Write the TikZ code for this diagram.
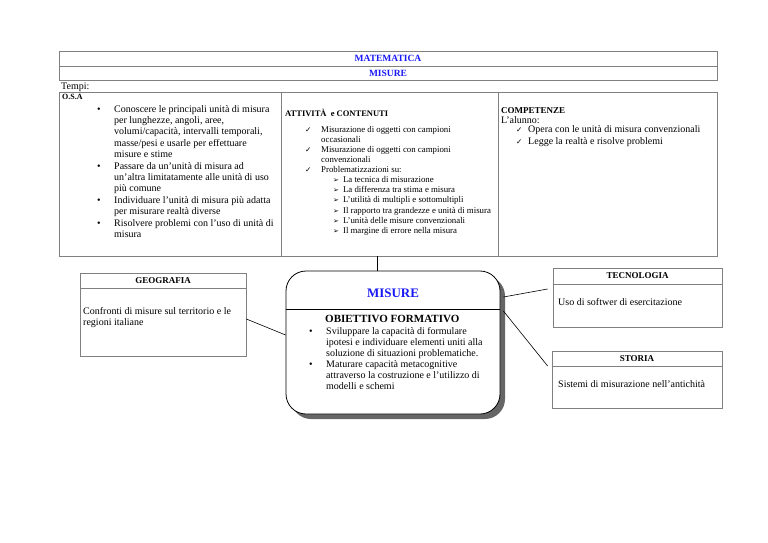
\documentclass[tikz,border=0pt]{standalone}
\usepackage{fontspec}
\setmainfont{Liberation Serif}
\newfontfamily\symfont{DejaVu Sans}
\usetikzlibrary{shadows,calc}
\definecolor{tblgray}{RGB}{128,128,128}
\definecolor{ttlblue}{RGB}{25,25,245}
\newcommand{\fsz}[2]{\fontsize{#1pt}{#2pt}\selectfont}
\newcommand{\chk}{{\symfont\fontsize{7.5pt}{7.5pt}\selectfont ✓}}
\newcommand{\arw}{{\symfont\fontsize{7pt}{7pt}\selectfont ➢}}
\begin{document}
\begin{tikzpicture}[x=1pt,y=-1pt,
  tbl/.style={draw=tblgray, line width=0.7pt},
  frame/.style={draw=tblgray, line width=0.7pt, inner sep=0pt},
  bluetitle/.style={text=ttlblue, font=\bfseries\fsz{9.5}{11}, inner sep=0pt},
  head/.style={font=\bfseries\fsz{9}{10}, inner sep=0pt},
  body/.style={font=\fsz{10}{11.5}, inner sep=0pt, align=left},
  conn/.style={draw=black, line width=0.6pt}]
\useasboundingbox[fill=white] (0,0) rectangle (768,543);

% top table
\draw[tbl] (59,51) rectangle (717,80);
\draw[tbl] (59,66) -- (717,66);
\node[bluetitle] (mat) at (388,58.5) {MATEMATICA};
\node[bluetitle] (mis) at (388,73) {MISURE};
\node[anchor=west, font=\fsz{10}{11}, inner sep=0pt] (tempi) at (61,87) {Tempi:};

% main table
\draw[tbl] (59,92) rectangle (717,256);
\draw[tbl] (281,92) -- (281,256);
\draw[tbl] (498,92) -- (498,256);

% column 1
\node[anchor=west, font=\bfseries\fsz{8}{9}, inner sep=0pt] (osa) at (62,97) {O.S.A};
\node[anchor=north west, inner sep=0pt, font=\fsz{10}{11.4}] (osalist) at (97,104) {%
\begin{tabular}{@{}p{17pt}@{}l@{}}
\textbullet & Conoscere le principali unità di misura\\
 & per lunghezze, angoli, aree,\\
 & volumi/capacità, intervalli temporali,\\
 & masse/pesi e usarle per effettuare\\
 & misure e stime\\
\textbullet & Passare da un’unità di misura ad\\
 & un’altra limitatamente alle unità di uso\\
 & più comune\\
\textbullet & Individuare l’unità di misura più adatta\\
 & per misurare realtà diverse\\
\textbullet & Risolvere problemi con l’uso di unità di\\
 & misura
\end{tabular}};

% column 2
\node[anchor=west, font=\bfseries\fsz{8.5}{9.5}, inner sep=0pt] (att) at (285,113) {ATTIVITÀ\ \ e CONTENUTI};
\node[anchor=north west, inner sep=0pt, font=\fsz{8.8}{10.1}] (attlist) at (305,125) {%
\begin{tabular}{@{}p{16pt}@{}l@{}}
\chk & Misurazione di oggetti con campioni\\
 & occasionali\\
\chk & Misurazione di oggetti con campioni\\
 & convenzionali\\
\chk & Problematizzazioni su:\\
 & \hspace{12pt}\arw\hspace{4pt}La tecnica di misurazione\\
 & \hspace{12pt}\arw\hspace{4pt}La differenza tra stima e misura\\
 & \hspace{12pt}\arw\hspace{4pt}L’utilità di multipli e sottomultipli\\
 & \hspace{12pt}\arw\hspace{4pt}Il rapporto tra grandezze e unità di misura\\
 & \hspace{12pt}\arw\hspace{4pt}L’unità delle misure convenzionali\\
 & \hspace{12pt}\arw\hspace{4pt}Il margine di errore nella misura
\end{tabular}};

% column 3
\node[anchor=west, font=\bfseries\fsz{9}{10}, inner sep=0pt] (comp) at (501,111) {COMPETENZE};
\node[anchor=west, font=\fsz{10}{11}, inner sep=0pt] (alunno) at (501,120.5) {L’alunno:};
\node[anchor=north west, inner sep=0pt, font=\fsz{10}{11.4}] (complist) at (516,124.5) {%
\begin{tabular}{@{}p{12pt}@{}l@{}}
\chk & Opera con le unità di misura convenzionali\\
\chk & Legge la realtà e risolve problemi
\end{tabular}};

% central box
\node[draw=black, line width=0.8pt, fill=white, rounded corners=20pt,
      minimum width=214pt, minimum height=143pt, inner sep=0pt,
      drop shadow={shadow xshift=5pt, shadow yshift=-5pt, opacity=1, fill=black!60}] (cbox) at (393,342.5) {};
\draw[line width=0.8pt] (cbox.west |- 0,309) -- (cbox.east |- 0,309);
\node[text=ttlblue, font=\bfseries\fsz{13}{14}, inner sep=0pt] (cmis) at (393,293) {MISURE};
\node[anchor=west, font=\bfseries\fsz{11}{12}, inner sep=0pt] (obf) at (325,319) {OBIETTIVO FORMATIVO};
\node[anchor=north west, inner sep=0pt, font=\fsz{10}{10.9}] (oblist) at (309,327) {%
\begin{tabular}{@{}p{17pt}@{}l@{}}
\textbullet & Sviluppare la capacità di formulare\\
 & ipotesi e individuare elementi uniti alla\\
 & soluzione di situazioni problematiche.\\
\textbullet & Maturare capacità metacognitive\\
 & attraverso la costruzione e l’utilizzo di\\
 & modelli e schemi
\end{tabular}};

% GEOGRAFIA
\node[frame, minimum width=166pt, minimum height=83pt] (geo) at (163,314.5) {};
\draw[tbl] (geo.west |- 0,288) -- (geo.east |- 0,288);
\node[head] (geot) at (163,280.5) {GEOGRAFIA};
\node[body, anchor=north west] (geob) at (83,307) {Confronti di misure sul territorio e le\\regioni italiane};

% TECNOLOGIA
\node[frame, minimum width=169pt, minimum height=59pt] (tec) at (637.5,297.5) {};
\draw[tbl] (tec.west |- 0,284) -- (tec.east |- 0,284);
\node[head] (tect) at (637.5,276) {TECNOLOGIA};
\node[body, anchor=west] (tecb) at (558,302) {Uso di softwer di esercitazione};

% STORIA
\node[frame, minimum width=170pt, minimum height=57pt] (sto) at (637,379.5) {};
\draw[tbl] (sto.west |- 0,366) -- (sto.east |- 0,366);
\node[head] (stot) at (637,358.5) {STORIA};
\node[body, anchor=west] (stob) at (558,384) {Sistemi di misurazione nell’antichità};

% connectors
\coordinate (tb) at (377,256);
\draw[conn] (tb) -- (tb |- cbox.north);
\draw[conn] ($(geo.east)+(0,4.5)$) -- (cbox.west |- 0,335);
\draw[conn] ($(cbox.east |- 0,297)+(3,0)$) -- ($(tec.west)+(-5,-8.5)$);
\draw[conn] ($(cbox.east |- 0,311)+(3,0)$) -- ($(sto.west |- 0,366)+(-4,0)$);
\end{tikzpicture}
\end{document}
